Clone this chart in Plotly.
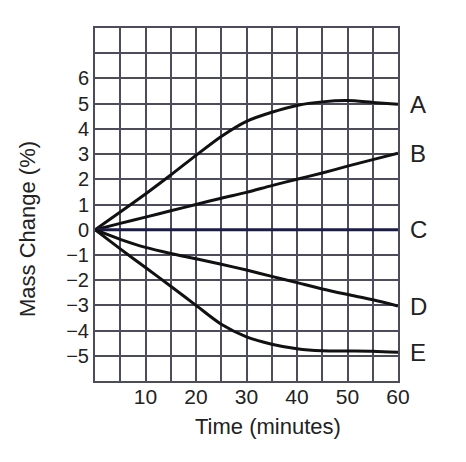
import plotly.graph_objects as go

# time in minutes, mass change in %
czas = [0, 5, 10, 15, 20, 25, 30, 35, 40, 45, 50, 55, 60]
seria_a = [0, 0.7, 1.42, 2.17, 2.95, 3.7, 4.3, 4.66, 4.93, 5.07, 5.12, 5.05, 4.98]
seria_b = [0, 0.25, 0.5, 0.75, 1.0, 1.25, 1.48, 1.75, 2.0, 2.25, 2.52, 2.78, 3.03]
seria_c = [0, 0, 0, 0, 0, 0, 0, 0, 0, 0, 0, 0, 0]
seria_d = [0, -0.38, -0.7, -0.94, -1.15, -1.37, -1.6, -1.85, -2.1, -2.35, -2.57, -2.78, -3.03]
seria_e = [0, -0.76, -1.5, -2.24, -3.0, -3.75, -4.25, -4.54, -4.72, -4.8, -4.81, -4.82, -4.86]
nazwy = ['A', 'B', 'C', 'D', 'E']

x_ticki = [5, 10, 15, 20, 25, 30, 35, 40, 45, 50, 55, 60]
x_opisy = ['', '10', '', '20', '', '30', '', '40', '', '50', '', '60']
y_ticki = [-6, -5, -4, -3, -2, -1, 0, 1, 2, 3, 4, 5, 6, 7, 8]
y_opisy = ['', '\u22125', '\u22124', '\u22123', '\u22122', '\u22121', '0', '1', '2', '3', '4', '5', '6', '', '']

czcionka = 'Liberation Sans, Arial, sans-serif'
siatka = '#4c4c5c'

fig = go.Figure()
serie = [seria_a, seria_b, seria_c, seria_d, seria_e]
for nazwa, wartosci in zip(nazwy, serie):
    kolor = '#1c1c4a' if nazwa == 'C' else '#111111'
    fig.add_trace(go.Scatter(x=czas, y=wartosci, mode='lines', name=nazwa,
                             line=dict(color=kolor, width=3, shape='spline', smoothing=0.8)))
    fig.add_annotation(x=czas[-1], y=wartosci[-1], text=nazwa, showarrow=False,
                       xanchor='left', yanchor='middle', xshift=10, font=dict(size=24, color='#222'))

fig.add_annotation(x=0.571, y=-0.128, xref='paper', yref='paper', text='Time (minutes)',
                   showarrow=False, xanchor='center', yanchor='middle',
                   font=dict(size=22, color='#222'))
fig.add_annotation(x=-0.225, y=0.43, xref='paper', yref='paper', text='Mass Change (%)',
                   showarrow=False, textangle=-90, xanchor='center', yanchor='middle',
                   font=dict(size=22, color='#222'))

# strona ma 8px marginesu, wiec figura troche mniejsza
fig.update_layout(
    width=450, height=446,
    margin=dict(l=87, r=60, t=20, b=73),
    plot_bgcolor='white', paper_bgcolor='white',
    showlegend=False,
    font=dict(family=czcionka, color='#222'),
)
fig.update_xaxes(range=[0, 60], tickvals=x_ticki, ticktext=x_opisy, showgrid=True,
                 gridcolor=siatka, gridwidth=2, zeroline=False, showline=True, mirror=True,
                 linecolor=siatka, linewidth=2, ticks='', tickfont=dict(size=21),
                 ticklabelstandoff=-4)
fig.update_yaxes(range=[-6, 8], tickvals=y_ticki, ticktext=y_opisy, showgrid=True,
                 gridcolor=siatka, gridwidth=2, zeroline=False, showline=True, mirror=True,
                 linecolor=siatka, linewidth=2, ticks='', tickfont=dict(size=20))

fig.write_html("out.html")
